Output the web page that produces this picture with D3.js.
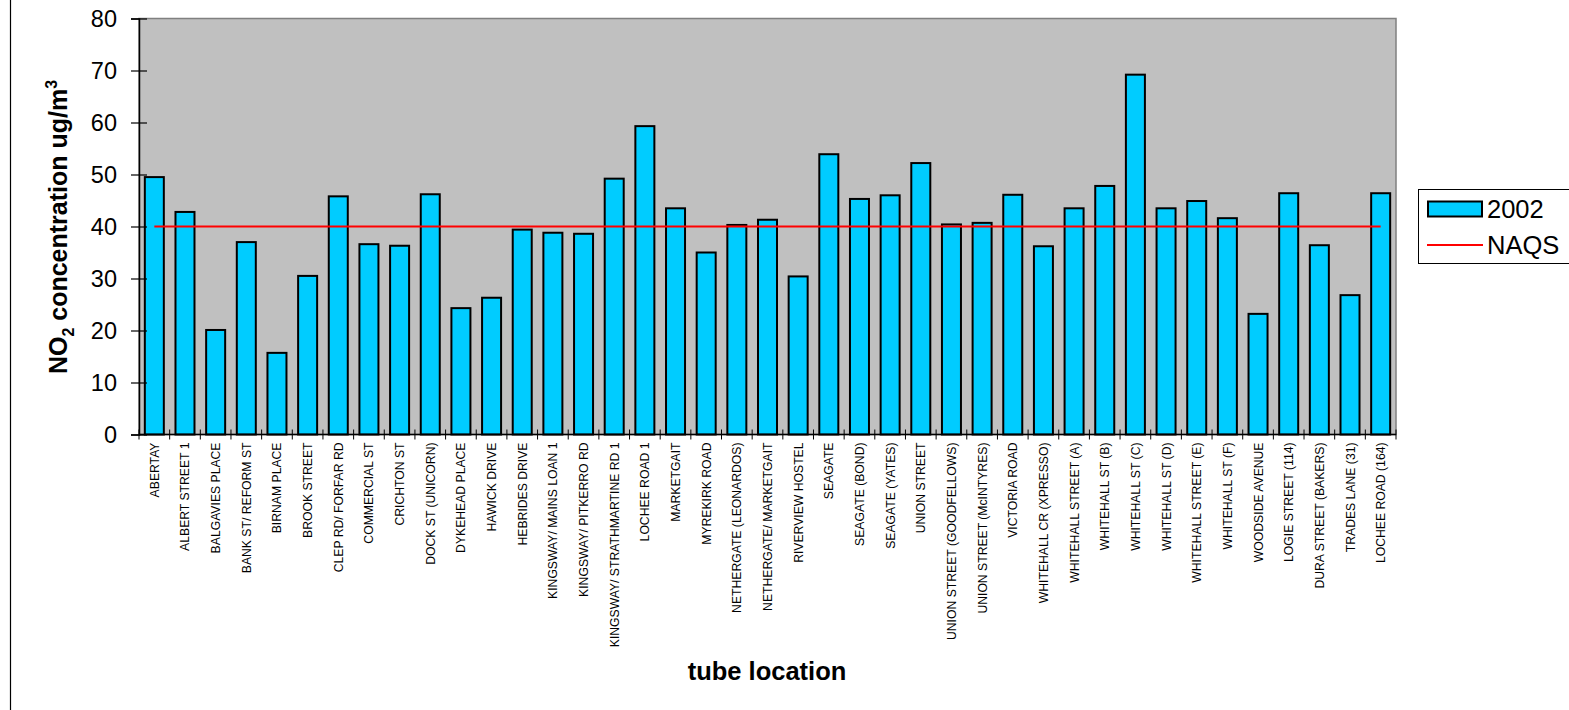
<!DOCTYPE html>
<html>
<head>
<meta charset="utf-8">
<script src="https://cdn.jsdelivr.net/npm/d3@7"></script>
<style>
  html, body { margin: 0; padding: 0; background: #fff; }
  svg { display: block; font-family: "Liberation Sans", Arial, sans-serif; }
</style>
</head>
<body>
<svg id="chart" width="1569" height="710"></svg>
<script>
// Diffusion tube sites (Dundee), annual mean NO2, 2002
const locations = [
  "ABERTAY", "ALBERT STREET 1", "BALGAVIES PLACE", "BANK ST/ REFORM ST", "BIRNAM PLACE",
  "BROOK STREET", "CLEP RD/ FORFAR RD", "COMMERCIAL ST", "CRICHTON ST", "DOCK ST (UNICORN)",
  "DYKEHEAD PLACE", "HAWICK DRIVE", "HEBRIDES DRIVE", "KINGSWAY/ MAINS LOAN 1", "KINGSWAY/ PITKERRO RD",
  "KINGSWAY/ STRATHMARTINE RD 1", "LOCHEE ROAD 1", "MARKETGAIT", "MYREKIRK ROAD", "NETHERGATE (LEONARDOS)",
  "NETHERGATE/ MARKETGAIT", "RIVERVIEW HOSTEL", "SEAGATE", "SEAGATE (BOND)", "SEAGATE (YATES)",
  "UNION STREET", "UNION STREET (GOODFELLOWS)", "UNION STREET (McINTYRES)", "VICTORIA ROAD", "WHITEHALL CR (XPRESSO)",
  "WHITEHALL STREET (A)", "WHITEHALL ST (B)", "WHITEHALL ST (C)", "WHITEHALL ST (D)", "WHITEHALL STREET (E)",
  "WHITEHALL ST (F)", "WOODSIDE AVENUE", "LOGIE STREET (114)", "DURA STREET (BAKERS)", "TRADES LANE (31)",
  "LOCHEE ROAD (164)"
];
const no2_2002 = [
  49.5, 42.8, 20.1, 37.0, 15.7,
  30.5, 45.8, 36.6, 36.3, 46.2,
  24.3, 26.3, 39.4, 38.8, 38.6,
  49.2, 59.3, 43.5, 35.0, 40.3,
  41.3, 30.4, 53.9, 45.3, 46.0,
  52.2, 40.4, 40.7, 46.1, 36.2,
  43.5, 47.8, 69.2, 43.5, 44.9,
  41.6, 23.2, 46.4, 36.4, 26.8,
  46.4
];
const naqsObjective = 40;
const yTicks = [0, 10, 20, 30, 40, 50, 60, 70, 80];
const legendLabels = ["2002", "NAQS"];

const svg = d3.select("#chart");
const plot = { left: 139, right: 1396, top: 18.5, bottom: 434.5 };

const x = d3.scaleBand().domain(locations).range([plot.left, plot.right]).paddingInner(0.38).paddingOuter(0.19);
const xEdge = d3.scaleBand().domain(locations).range([plot.left, plot.right]).padding(0);
const y = d3.scaleLinear().domain([0, 80]).range([plot.bottom, plot.top]);

// outer frame line on the left
svg.append("line").attr("x1", 10.5).attr("x2", 10.5).attr("y1", 0).attr("y2", 710)
  .attr("stroke", "#000").attr("stroke-width", 1.2);

// plot area
svg.append("rect")
  .attr("x", plot.left).attr("y", plot.top)
  .attr("width", plot.right - plot.left).attr("height", plot.bottom - plot.top)
  .attr("fill", "#c0c0c0").attr("stroke", "#808080").attr("stroke-width", 1.5);

// bars
svg.append("g").selectAll("rect").data(locations).join("rect")
  .attr("x", d => x(d))
  .attr("y", (d, i) => y(no2_2002[i]))
  .attr("width", x.bandwidth())
  .attr("height", (d, i) => y(0) - y(no2_2002[i]))
  .attr("fill", "#00ccff").attr("stroke", "#000").attr("stroke-width", 2);

// NAQS objective line, centre of first bar to centre of last bar
const firstC = x(locations[0]) + x.bandwidth() / 2;
const lastC = x(locations[locations.length - 1]) + x.bandwidth() / 2;
svg.append("line")
  .attr("x1", firstC).attr("x2", lastC)
  .attr("y1", y(naqsObjective)).attr("y2", y(naqsObjective))
  .attr("stroke", "#ff0000").attr("stroke-width", 2);

// y axis
const yAxis = svg.append("g").attr("transform", `translate(${plot.left},0)`)
  .call(d3.axisLeft(y).tickValues(yTicks).tickSize(8).tickPadding(14));
yAxis.select(".domain").attr("stroke", "#000").attr("stroke-width", 1.5);
yAxis.selectAll(".tick line").attr("stroke", "#000").attr("x2", 8).attr("x1", -8).attr("stroke-width", 1.2);
yAxis.selectAll(".tick text").attr("font-size", 23.5).attr("fill", "#000").attr("dy", "0.34em")
  .attr("font-family", "Liberation Sans, Arial, sans-serif");

// x axis: ticks at category boundaries, crossing the axis line
svg.append("line").attr("x1", plot.left).attr("x2", plot.right)
  .attr("y1", plot.bottom).attr("y2", plot.bottom).attr("stroke", "#000").attr("stroke-width", 1.5);
const bounds = locations.map(d => xEdge(d)).concat([plot.right]);
svg.append("g").selectAll("line").data(bounds).join("line")
  .attr("x1", d => d).attr("x2", d => d)
  .attr("y1", plot.bottom - 5).attr("y2", plot.bottom + 5)
  .attr("stroke", "#000").attr("stroke-width", 1);

// category labels, rotated
svg.append("g").selectAll("text").data(locations).join("text")
  .attr("transform", d => `translate(${x(d) + x.bandwidth() / 2 + 4.5},${plot.bottom + 8}) rotate(-90)`)
  .attr("text-anchor", "end")
  .attr("font-size", 12.2)
  .attr("fill", "#000")
  .text(d => d);

// axis titles
const yTitle = svg.append("text")
  .attr("transform", `translate(67,227) rotate(-90)`)
  .attr("text-anchor", "middle")
  .attr("font-size", 25).attr("font-weight", "bold").attr("fill", "#000");
yTitle.append("tspan").text("NO");
yTitle.append("tspan").attr("font-size", 16).attr("dy", 7).text("2");
yTitle.append("tspan").attr("dy", -7).text(" concentration ug/m");
yTitle.append("tspan").attr("font-size", 16).attr("dy", -10).text("3");

svg.append("text")
  .attr("x", 767).attr("y", 680)
  .attr("text-anchor", "middle")
  .attr("font-size", 25.5).attr("font-weight", "bold").attr("fill", "#000")
  .text("tube location");

// legend
const lg = svg.append("g");
lg.append("rect").attr("x", 1418.5).attr("y", 189.5).attr("width", 170).attr("height", 74)
  .attr("fill", "#fff").attr("stroke", "#000").attr("stroke-width", 1);
lg.append("rect").attr("x", 1428).attr("y", 201.5).attr("width", 54).attr("height", 15)
  .attr("fill", "#00ccff").attr("stroke", "#000").attr("stroke-width", 2);
lg.append("line").attr("x1", 1427).attr("x2", 1483).attr("y1", 245).attr("y2", 245)
  .attr("stroke", "#ff0000").attr("stroke-width", 2);
lg.selectAll("text.lbl").data(legendLabels).join("text")
  .attr("class", "lbl")
  .attr("x", 1487).attr("y", (d, i) => 218 + i * 36)
  .attr("font-size", 25.5).attr("fill", "#000")
  .text(d => d);
</script>
</body>
</html>
